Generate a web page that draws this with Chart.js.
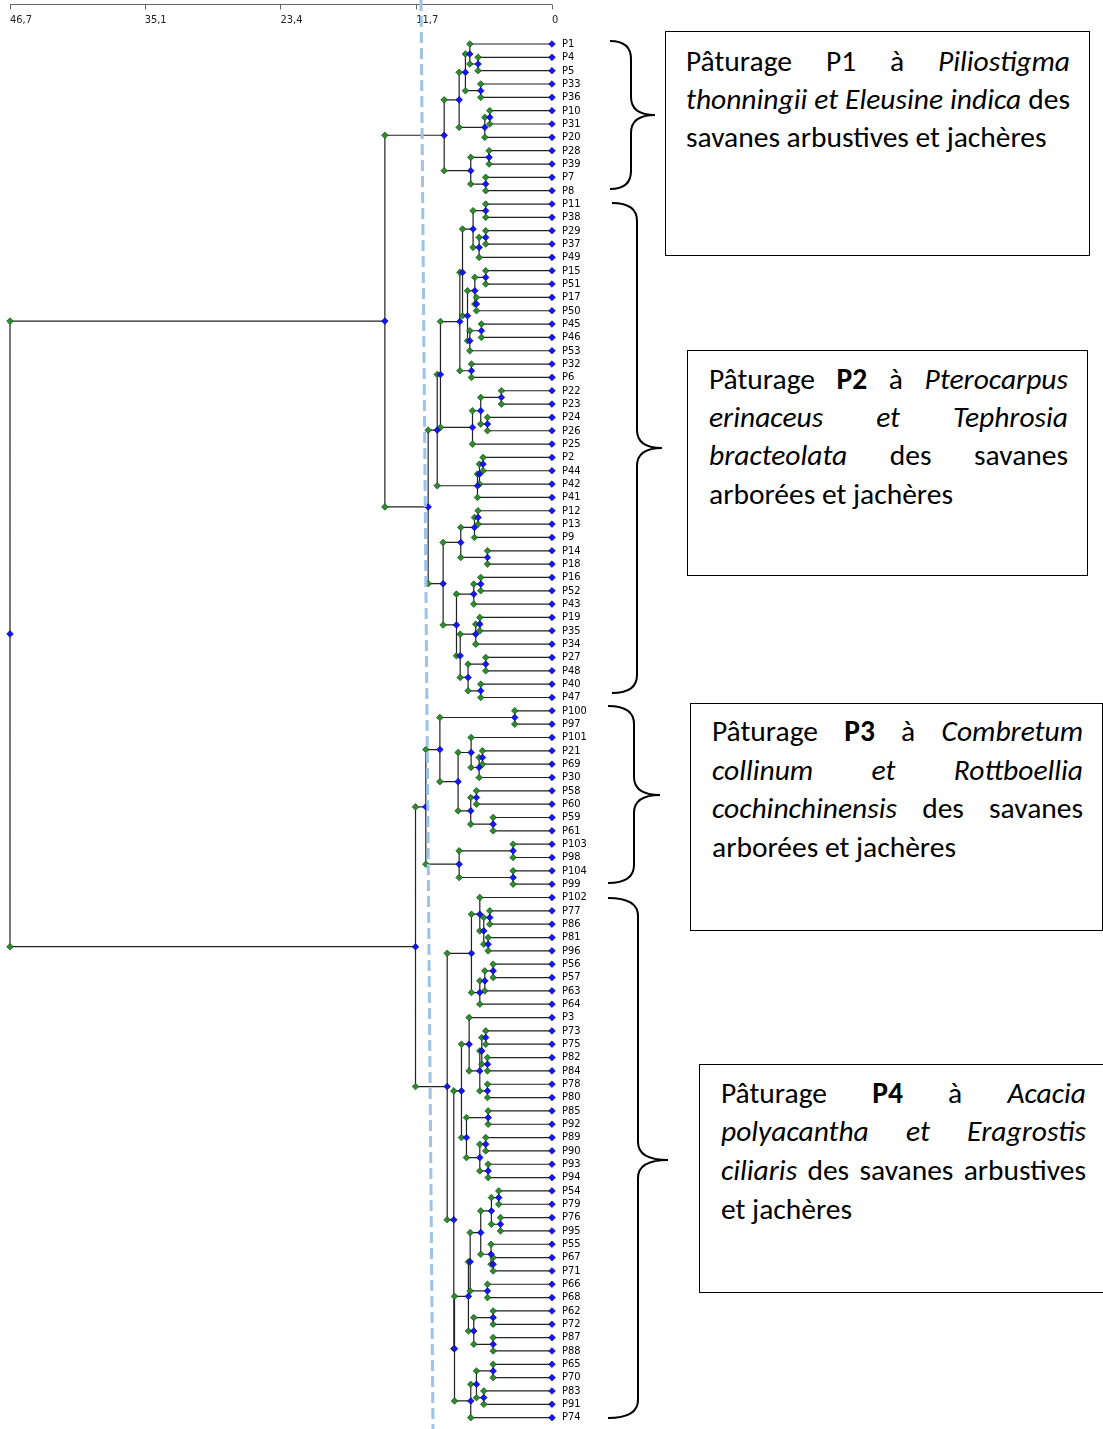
<!DOCTYPE html>
<html>
<head>
<meta charset="utf-8">
<script src="https://cdn.jsdelivr.net/npm/chart.js@4.4.1/dist/chart.umd.min.js"></script>
<style>
  html, body { margin: 0; padding: 0; background: #fff; }
  body { width: 1103px; height: 1429px; position: relative; overflow: hidden; font-family: Carlito, Calibri, Lato, "Open Sans", sans-serif; }
  #wrap { position: absolute; left: 0; top: 0; width: 620px; height: 1429px; }
  .box { position: absolute; border: 1px solid #000; box-sizing: border-box; color: #000; font-size: 29.5px; }
  .ln { position: absolute; height: 38px; line-height: 38px; white-space: nowrap; }
  .j { text-align: justify; text-align-last: justify; }
  svg.over { position: absolute; left: 0; top: 0; pointer-events: none; }
</style>
</head>
<body>
<div id="wrap"><canvas id="dendro" width="620" height="1429"></canvas></div>

<div class="box" style="left:665px; top:31px; width:425px; height:225px;">
  <div class="ln j" style="left:20px; top:10px; width:384px;">Pâturage P1 à <i>Piliostigma</i></div>
  <div class="ln j" style="left:20px; top:48px; width:384px;"><i>thonningii et Eleusine indica</i> des</div>
  <div class="ln" style="left:20px; top:86px;">savanes arbustives et jachères</div>
</div>
<div class="box" style="left:687px; top:350px; width:401px; height:226px;">
  <div class="ln j" style="left:21px; top:9px; width:359px;">Pâturage <b>P2</b> à <i>Pterocarpus</i></div>
  <div class="ln j" style="left:21px; top:47px; width:359px;"><i>erinaceus et Tephrosia</i></div>
  <div class="ln j" style="left:21px; top:85px; width:359px;"><i>bracteolata</i> des savanes</div>
  <div class="ln" style="left:21px; top:124px;">arborées et jachères</div>
</div>
<div class="box" style="left:690px; top:703px; width:413px; height:228px;">
  <div class="ln j" style="left:21px; top:8px; width:371px;">Pâturage <b>P3</b> à <i>Combretum</i></div>
  <div class="ln j" style="left:21px; top:47px; width:371px;"><i>collinum et Rottboellia</i></div>
  <div class="ln j" style="left:21px; top:85px; width:371px;"><i>cochinchinensis</i> des savanes</div>
  <div class="ln" style="left:21px; top:124px;">arborées et jachères</div>
</div>
<div class="box" style="left:699px; top:1064px; width:430px; height:229px;">
  <div class="ln j" style="left:21px; top:9px; width:365px;">Pâturage <b>P4</b> à <i>Acacia</i></div>
  <div class="ln j" style="left:21px; top:47px; width:365px;"><i>polyacantha et Eragrostis</i></div>
  <div class="ln j" style="left:21px; top:86px; width:365px;"><i>ciliaris</i> des savanes arbustives</div>
  <div class="ln" style="left:21px; top:125px;">et jachères</div>
</div>

<svg class="over" width="1103" height="1429" id="marks"></svg>

<script>
// leaf order, top to bottom
const leaves = [
  "P1","P4","P5","P33","P36","P10","P31","P20","P28","P39","P7","P8",
  "P11","P38","P29","P37","P49","P15","P51","P17","P50","P45","P46","P53","P32","P6",
  "P22","P23","P24","P26","P25","P2","P44","P42","P41","P12","P13","P9","P14","P18",
  "P16","P52","P43","P19","P35","P34","P27","P48","P40","P47",
  "P100","P97","P101","P21","P69","P30","P58","P60","P59","P61","P103","P98","P104","P99",
  "P102","P77","P86","P81","P96","P56","P57","P63","P64","P3","P73","P75","P82","P84",
  "P78","P80","P85","P92","P89","P90","P93","P94","P54","P79","P76","P95","P55","P67",
  "P71","P66","P68","P62","P72","P87","P88","P65","P70","P83","P91","P74"
];

// merges: [left, right, distance]; a string is a leaf, a number is an earlier merge
const merges = [
  ["P4","P5",6.37], ["P1",0,7.08], ["P33","P36",6.14], [1,2,7.46],
  ["P10","P31",5.36], [4,"P20",5.79], [3,5,8.00], ["P28","P39",5.42],
  ["P7","P8",5.71], [7,8,7.00], [6,9,9.29],
  ["P11","P38",5.71], ["P29","P37",5.71], [12,"P49",6.28], [11,13,6.80],
  ["P15","P51",5.71], ["P17","P50",6.51], [15,16,6.65], ["P45","P46",6.08],
  [18,"P53",7.08], [17,19,7.28], [14,20,7.71], ["P32","P6",6.94], [21,22,7.94],
  ["P22","P23",4.36], ["P24","P26",5.56], [24,25,6.14], [26,"P25",6.85],
  [23,27,9.61], ["P2","P44",5.94], [29,"P42",6.25], [30,"P41",6.42], [28,31,9.89],
  ["P12","P13",6.37], [33,"P9",6.68], ["P14","P18",5.56], [34,35,7.86],
  ["P16","P52",6.14], [37,"P43",6.74], ["P19","P35",6.22], [39,"P34",6.57],
  ["P27","P48",5.71], ["P40","P47",6.14], [41,42,7.23], [40,43,7.91],
  [38,44,8.23], [36,45,9.38], [32,46,10.67], [10,47,14.40],
  ["P100","P97",3.21], ["P21","P69",5.99], [50,"P30",6.28], ["P101",51,6.97],
  ["P58","P60",6.51], ["P59","P61",5.07], [53,54,7.00], [52,55,8.09], [49,56,9.66],
  ["P103","P98",3.35], ["P104","P99",3.35], [58,59,8.00], [57,60,10.87],
  ["P77","P86",5.36], ["P81","P96",5.50], [62,63,5.88], ["P102",64,6.22],
  ["P56","P57",5.07], [66,"P63",5.79], [67,"P64",6.22], [65,68,6.94],
  ["P73","P75",5.71], ["P82","P84",5.56], [70,71,6.05], ["P78","P80",5.56],
  [72,73,6.22], ["P3",74,7.14], ["P85","P92",5.50], ["P89","P90",5.71],
  ["P93","P94",5.50], [77,78,6.22], [76,79,7.37], [75,80,7.80],
  ["P54","P79",4.59], ["P76","P95",4.44], [82,83,5.22], ["P67","P71",5.07],
  ["P55",85,5.25], [84,86,6.14], ["P66","P68",5.56], [87,88,7.05],
  ["P62","P72",5.07], ["P87","P88",5.07], [90,91,6.74], [89,92,7.20],
  ["P65","P70",5.07], ["P83","P91",5.88], [94,95,6.51], [96,"P74",7.00],
  [93,97,8.40], [81,98,8.46], [69,99,9.03], [61,100,11.76],
  [48,101,46.7]
];

const axisTicks = [46.7, 35.1, 23.4, 11.7, 0];

// layout of the tree
const leafIdx = {};
leaves.forEach((n, i) => leafIdx[n] = i);
const nodeY = [], nodeH = [];
function pos(ref) {
  return typeof ref === "string" ? { y: leafIdx[ref], h: 0 } : { y: nodeY[ref], h: nodeH[ref] };
}
const linePts = [], greenPts = [], bluePts = [];
leaves.forEach((n, i) => bluePts.push({ x: 0, y: i }));
merges.forEach(([a, b, h], k) => {
  const A = pos(a), B = pos(b);
  nodeY[k] = (A.y + B.y) / 2;
  nodeH[k] = h;
  linePts.push({ x: A.h, y: A.y }, { x: h, y: A.y }, { x: h, y: B.y }, { x: B.h, y: B.y }, { x: NaN, y: NaN });
  greenPts.push({ x: h, y: A.y }, { x: h, y: B.y });
  bluePts.push({ x: h, y: nodeY[k] });
});

const fmt = v => String(v).replace(".", ",");
const narrow = "'Liberation Sans Narrow', 'DejaVu Sans Condensed', 'Arial Narrow', sans-serif";

// axis line with ticks pointing down, drawn from the x scale
const topAxis = {
  id: "topAxis",
  afterDraw(chart) {
    const x = chart.scales.x, ctx = chart.ctx;
    ctx.save();
    ctx.strokeStyle = "#666";
    ctx.lineWidth = 1;
    ctx.beginPath();
    ctx.moveTo(x.getPixelForValue(46.7), 4.5);
    ctx.lineTo(x.getPixelForValue(0), 4.5);
    axisTicks.forEach(v => {
      const px = Math.round(x.getPixelForValue(v)) + 0.5;
      ctx.moveTo(px, 4.5);
      ctx.lineTo(px, 9.5);
    });
    ctx.stroke();
    ctx.restore();
  }
};

new Chart(document.getElementById("dendro"), {
  type: "scatter",
  data: {
    datasets: [
      { data: bluePts, pointStyle: "rectRot", pointRadius: 3.3, backgroundColor: "#1515ff", borderColor: "#00008b", borderWidth: 0.7, order: 0, clip: false },
      { data: greenPts, pointStyle: "rectRot", pointRadius: 3.3, backgroundColor: "#2e8b2e", borderColor: "#0f4d0f", borderWidth: 0.7, order: 1, clip: false },
      { data: linePts, showLine: true, spanGaps: false, pointRadius: 0, borderColor: "#222", borderWidth: 1.2, tension: 0, order: 2, clip: false }
    ]
  },
  options: {
    responsive: false,
    animation: false,
    events: [],
    layout: { padding: { left: 10, right: 0, top: 0, bottom: 3 } },
    plugins: { legend: { display: false }, tooltip: { enabled: false } },
    scales: {
      x: {
        type: "linear", position: "top", reverse: true, min: 0, max: 46.7,
        grid: { display: false, drawTicks: false }, border: { display: false },
        afterBuildTicks: s => { s.ticks = axisTicks.map(v => ({ value: v })); },
        afterFit: s => { s.height = 28; s.paddingLeft = 0; s.paddingRight = 0; },
        ticks: { align: "start", padding: 1, autoSkip: false, maxRotation: 0, color: "#222",
          font: { family: narrow, size: 11 }, callback: v => fmt(v) }
      },
      y: {
        type: "linear", position: "right", reverse: true, min: -1.2, max: 103.5,
        grid: { display: false, drawTicks: false }, border: { display: false },
        afterBuildTicks: s => { s.ticks = leaves.map((n, i) => ({ value: i })); },
        afterFit: s => { s.width = 68; s.paddingTop = 0; s.paddingBottom = 0; },
        ticks: { padding: 10, autoSkip: false, color: "#000",
          font: { family: narrow, size: 11 }, callback: v => leaves[v] }
      }
    }
  },
  plugins: [topAxis]
});

// braces and the dashed cut line
const braces = [
  [610, 631, 655, 41, 115, 189],
  [612, 637, 662, 203, 448, 693],
  [608, 634, 660, 706, 795, 883],
  [608, 638, 668, 898, 1160, 1418]
];
const svg = document.getElementById("marks");
let s = '<line x1="421" y1="0" x2="433" y2="1429" stroke="#9dc3e6" stroke-width="3" stroke-dasharray="11 5"/>';
braces.forEach(([x0, xm, xt, y1, ym, y2]) => {
  const r = 18;
  s += `<path d="M${x0},${y1} Q${xm},${y1} ${xm},${y1 + r} L${xm},${ym - r} Q${xm},${ym} ${xt},${ym} Q${xm},${ym} ${xm},${ym + r} L${xm},${y2 - r} Q${xm},${y2} ${x0},${y2}" fill="none" stroke="#000" stroke-width="2"/>`;
});
svg.innerHTML = s;
</script>
</body>
</html>
